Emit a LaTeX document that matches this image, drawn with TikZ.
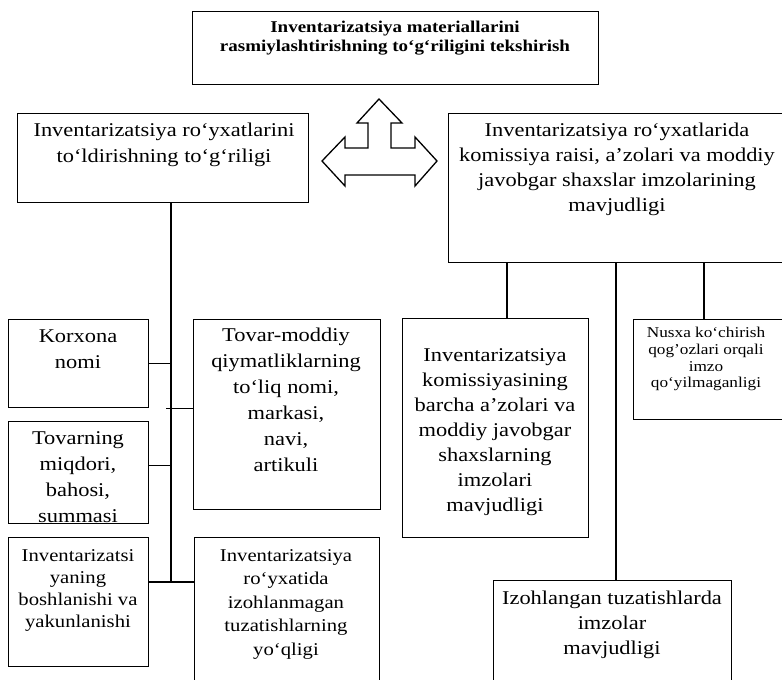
\documentclass[tikz,border=0pt]{standalone}
\usepackage{fontspec}
\setmainfont[FakeStretch=1.15]{Liberation Serif}
\begin{document}
\begin{tikzpicture}[x={(1pt,0)},y={(0,-1pt)},
  box/.style={draw, line width=1.3pt, rectangle, inner sep=0pt, anchor=north west},
  txt/.style={inner sep=0pt, align=center, anchor=north},
  fA/.style={font=\fontsize{19.5}{26}\selectfont},
  fB/.style={font=\fontsize{19.5}{25}\selectfont},
  fC/.style={font=\fontsize{18}{22}\selectfont},
  fD/.style={font=\fontsize{18}{23.5}\selectfont},
  fE/.style={font=\fontsize{15}{16.7}\selectfont},
  fT/.style={font=\bfseries\fontsize{16.5}{19}\selectfont},
  conn/.style={line width=1.3pt},
  blockarrow/.style={draw, line width=1.3pt, line join=miter, fill=white}]
\useasboundingbox (0,0) rectangle (782,680);
\clip (0,0) rectangle (782,680);

% boxes
\node[box, minimum width=406pt, minimum height=73pt] (top) at (192,11) {};
\node[box, minimum width=291pt, minimum height=89pt] (Lbox) at (17,113) {};
\node[box, minimum width=340pt, minimum height=149pt] (Rbox) at (448,113) {};
\node[box, minimum width=140pt, minimum height=88pt] (korx) at (8,319) {};
\node[box, minimum width=187pt, minimum height=190pt] (tovar) at (193,319) {};
\node[box, minimum width=140pt, minimum height=102pt] (tovn) at (8,421) {};
\node[box, minimum width=140pt, minimum height=129pt] (invb) at (8,537) {};
\node[box, minimum width=185pt, minimum height=170pt] (royx) at (194,537) {};
\node[box, minimum width=186pt, minimum height=219pt] (kom) at (402,318) {};
\node[box, minimum width=155pt, minimum height=100pt] (nusx) at (633,319) {};
\node[box, minimum width=238pt, minimum height=130pt] (izoh) at (493,580) {};

% texts
\node[txt, fT] (topT) at (395,21) {Inventarizatsiya materiallarini\\rasmiylashtirishning to‘g‘riligini tekshirish};
\node[txt, fA] (LboxT) at (164,123) {Inventarizatsiya ro‘yxatlarini\\to‘ldirishning to‘g‘riligi};
\node[txt, fB] (RboxT) at (617,123) {Inventarizatsiya ro‘yxatlarida\\komissiya raisi, a’zolari va moddiy\\javobgar shaxslar imzolarining\\mavjudligi};
\node[txt, fA] (korxT) at (78,330) {Korxona\\nomi};
\node[txt, fA] (tovarT) at (286,328) {Tovar-moddiy\\qiymatliklarning\\to‘liq nomi,\\markasi,\\navi,\\artikuli};
\node[txt, fA] (tovnT) at (78,431) {Tovarning\\miqdori,\\bahosi,\\summasi};
\node[txt, fC] (invbT) at (78,549) {Inventarizatsi\\yaning\\boshlanishi va\\yakunlanishi};
\node[txt, fD] (royxT) at (286,549) {Inventarizatsiya\\ro‘yxatida\\izohlanmagan\\tuzatishlarning\\yo‘qligi};
\node[txt, fB] (komT) at (495,348) {Inventarizatsiya\\komissiyasining\\barcha a’zolari va\\moddiy javobgar\\shaxslarning\\imzolari\\mavjudligi};
\node[txt, fE] (nusxT) at (706,327) {Nusxa ko‘chirish\\qog'ozlari orqali\\imzo\\qo‘yilmaganligi};
\node[txt, fB] (izohT) at (612,591) {Izohlangan tuzatishlarda\\imzolar\\mavjudligi};

% connectors, left branch
\coordinate (Ltrunk) at (171,582);
\draw[conn] (Lbox.south -| Ltrunk) -- (Ltrunk);
\draw[conn] (korx.east) -- (korx.east -| Ltrunk);
\draw[conn] (tovar.west |- korx.south) -- ([xshift=-5pt]Ltrunk |- korx.south);
\draw[conn] ([yshift=7pt]tovn.east) -- ([yshift=7pt]tovn.east -| Ltrunk);
\draw[conn] (invb.east |- Ltrunk) -- (royx.west |- Ltrunk);

% connectors, right branch
\coordinate (r1) at (507,0);
\coordinate (r2) at (616,0);
\coordinate (r3) at (704,0);
\draw[conn] (Rbox.south -| r1) -- (kom.north -| r1);
\draw[conn] (Rbox.south -| r2) -- (izoh.north -| r2);
\draw[conn] (Rbox.south -| r3) -- (nusx.north -| r3);

% triple block arrow
\draw[blockarrow] (379,99) -- (402,123) -- (391,123) -- (391,148) -- (415,148) -- (415,137)
  -- (437,161) -- (415,186) -- (415,175) -- (345,175) -- (345,186) -- (322,161)
  -- (345,137) -- (345,148) -- (368,148) -- (368,123) -- (357,123) -- cycle;
\end{tikzpicture}
\end{document}
